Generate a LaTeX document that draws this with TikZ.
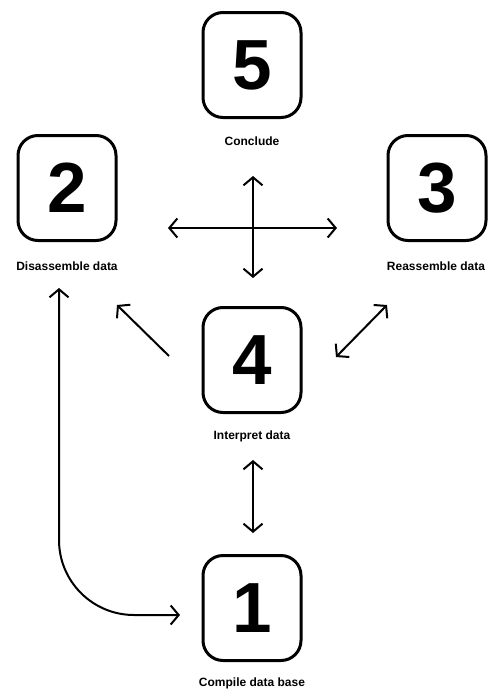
\documentclass[tikz,border=0pt]{standalone}
\usepackage{fontspec}
\setmainfont{Liberation Sans}
\usetikzlibrary{arrows.meta}

\begin{document}
\begin{tikzpicture}[
        x=1pt, y=-1pt,
        stepbox/.style={
            draw, line width=3pt, rounded corners=20pt,
            minimum width=98pt, minimum height=105pt,
            font=\fontsize{71}{71}\selectfont\bfseries
        },
        caption/.style={font=\fontsize{12}{14}\selectfont\bfseries},
        arr/.style={
            line width=2pt,
            arrows={Straight Barb[length=8pt,width=19pt]-Straight Barb[length=8pt,width=19pt]}
        },
        arrone/.style={
            line width=2pt,
            arrows={-Straight Barb[length=8pt,width=19pt]}
        }
    ]
    \useasboundingbox (0,0) rectangle (489,691);

    % steps
    \node[stepbox] (conclude)    at (252,65)  {5};
    \node[stepbox] (disassemble) at (67,188)  {2};
    \node[stepbox] (reassemble)  at (437,188) {3};
    \node[stepbox] (interpret)   at (252,360) {4};
    \node[stepbox] (compile)     at (252,608) {1};

    % captions
    \node[caption] (concludeL)    at (252,141) {Conclude};
    \node[caption] (disassembleL) at (67,266)  {Disassemble data};
    \node[caption] (reassembleL)  at (436,266) {Reassemble data};
    \node[caption] (interpretL)   at (252,436) {Interpret data};
    \node[caption] (compileL)     at (252,683) {Compile data base};

    % arrow ends
    \coordinate (crossN) at (253,176);
    \coordinate (crossS) at (253,278);
    \coordinate (crossW) at (168,228);
    \coordinate (crossE) at (337,228);
    \coordinate (diagWa) at (169,356);
    \coordinate (diagWb) at (117,305);
    \coordinate (diagEa) at (336,357);
    \coordinate (diagEb) at (387,305);
    \coordinate (lowN)   at (253,460);
    \coordinate (lowS)   at (253,533);
    \coordinate (loopA)  at (59,288);
    \coordinate (loopB)  at (180,615);

    \draw[arr] (crossN) -- (crossS);
    \draw[arr] (crossW) -- (crossE);
    \draw[arrone] (diagWa) -- (diagWb);
    \draw[arr] (diagEa) -- (diagEb);
    \draw[arr] (lowN) -- (lowS);
    \draw[arr, rounded corners=75pt] (loopA) |- (loopB);
\end{tikzpicture}
\end{document}
